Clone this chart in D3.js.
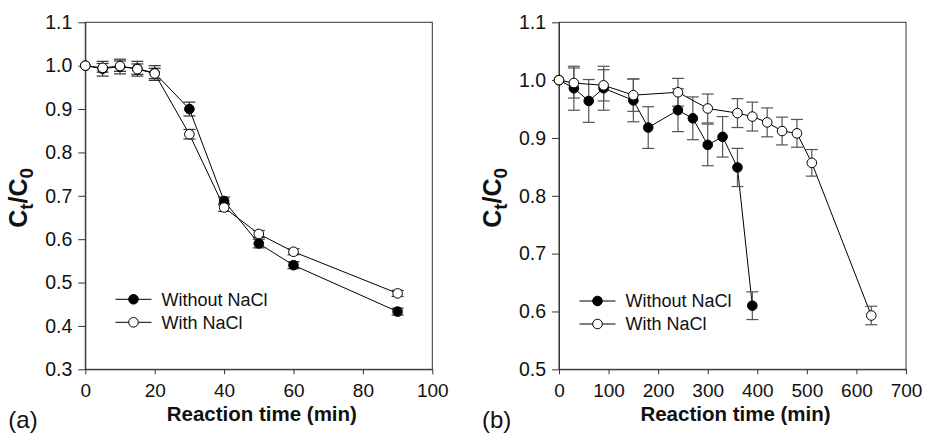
<!DOCTYPE html>
<html>
<head>
<meta charset="utf-8">
<script src="https://cdn.jsdelivr.net/npm/d3@7"></script>
<style>
  body { margin: 0; background: #fff; }
  svg { display: block; }
  text { font-family: Arial, "Liberation Sans", sans-serif; }
</style>
</head>
<body>
<svg id="chart" width="926" height="434"></svg>
<script>
// ---- panel (a) data ----
const timeA = [0, 5, 10, 15, 20, 30, 40, 50, 60, 90];
const withoutA = [1.0, 0.993, 0.998, 0.993, 0.983, 0.900, 0.688, 0.590, 0.540, 0.433];
const withoutAErr = [0, 0.017, 0.017, 0.017, 0.017, 0.016, 0.009, 0.010, 0.008, 0.008];
const withA = [1.0, 0.995, 0.999, 0.992, 0.982, 0.842, 0.673, 0.612, 0.571, 0.475];
const withAErr = [0, 0.010, 0.012, 0.012, 0.012, 0.011, 0.009, 0.008, 0.007, 0.007];
const xTicksA = [0, 20, 40, 60, 80, 100];
const yTicksA = [0.3, 0.4, 0.5, 0.6, 0.7, 0.8, 0.9, 1.0, 1.1];

// ---- panel (b) data ----
const timeBWithout = [0, 30, 60, 90, 150, 180, 240, 270, 300, 330, 360, 390];
const withoutB = [1.0, 0.986, 0.964, 0.986, 0.965, 0.918, 0.948, 0.934, 0.888, 0.902, 0.849, 0.610];
const withoutBErr = [0, 0.038, 0.037, 0.038, 0.037, 0.036, 0.037, 0.037, 0.036, 0.035, 0.033, 0.024];
const timeBWith = [0, 30, 90, 150, 240, 300, 360, 390, 420, 450, 480, 510, 630];
const withB = [1.0, 0.995, 0.991, 0.974, 0.979, 0.951, 0.943, 0.937, 0.927, 0.912, 0.908, 0.857, 0.593];
const withBErr = [0, 0.026, 0.027, 0.028, 0.024, 0.025, 0.025, 0.025, 0.025, 0.024, 0.024, 0.023, 0.016];
const xTicksB = [0, 100, 200, 300, 400, 500, 600, 700];
const yTicksB = [0.5, 0.6, 0.7, 0.8, 0.9, 1.0, 1.1];

const seriesNames = ["Without NaCl", "With NaCl"];

const svg = d3.select("#chart");

function drawPanel(p) {
  const x = d3.scaleLinear().domain(p.xDomain).range([p.left, p.right]);
  const y = d3.scaleLinear().domain(p.yDomain).range([p.bottom, p.top]);
  const g = svg.append("g");

  // frame
  g.append("rect")
    .attr("x", p.left).attr("y", p.top)
    .attr("width", p.right - p.left).attr("height", p.bottom - p.top)
    .attr("fill", "none").attr("stroke", "#333").attr("stroke-width", 1);

  g.append("g")
    .attr("transform", `translate(0,${p.bottom})`)
    .call(d3.axisBottom(x).tickValues(p.xTicks).tickSize(5).tickPadding(9.5).tickSizeOuter(0))
    .call(a => a.select(".domain").attr("stroke", "#333"))
    .call(a => a.selectAll("line").attr("stroke", "#333"))
    .call(a => a.selectAll("text").attr("font-size", 19).attr("fill", "#111")
      .style("font-family", "Arial, 'Liberation Sans', sans-serif"));

  g.append("g")
    .attr("transform", `translate(${p.left},0)`)
    .call(d3.axisLeft(y).tickValues(p.yTicks).tickFormat(d3.format(".1f"))
      .tickSize(7).tickPadding(6).tickSizeOuter(0))
    .call(a => a.select(".domain").attr("stroke", "#333"))
    .call(a => a.selectAll("line").attr("stroke", "#333"))
    .call(a => a.selectAll("text").attr("font-size", 19.5).attr("fill", "#111")
      .style("font-family", "Arial, 'Liberation Sans', sans-serif"));

  // axis titles
  g.append("text")
    .attr("x", (p.left + p.right) / 2 + 3).attr("y", 421)
    .attr("text-anchor", "middle")
    .attr("font-size", 20.5).attr("font-weight", "bold").attr("fill", "#111")
    .text("Reaction time (min)");

  const yt = g.append("text")
    .attr("transform", `translate(${p.left - 58},${(p.top + p.bottom) / 2 + 2}) rotate(-90)`)
    .attr("text-anchor", "middle")
    .attr("font-size", 25).attr("font-weight", "bold").attr("fill", "#111");
  yt.append("tspan").text("C");
  yt.append("tspan").attr("dy", 6).attr("font-size", 19).text("t");
  yt.append("tspan").attr("dy", -6).text("/C");
  yt.append("tspan").attr("dy", 6).attr("font-size", 19).text("0");

  g.append("text")
    .attr("x", p.left - 77).attr("y", 428)
    .attr("font-size", 24).attr("fill", "#111")
    .text(p.tag);

  // series: filled first, open on top
  p.series.forEach(s => {
    const pts = s.t.map((t, i) => ({ t, v: s.v[i], e: s.e[i] }));

    g.append("path")
      .datum(pts)
      .attr("fill", "none").attr("stroke", "#000").attr("stroke-width", 1)
      .attr("d", d3.line().x(d => x(d.t)).y(d => y(d.v)));

    const eb = g.append("g").attr("stroke", p.errColor).attr("stroke-width", 1.2);
    pts.filter(d => d.e > 0).forEach(d => {
      eb.append("line").attr("x1", x(d.t)).attr("x2", x(d.t))
        .attr("y1", y(d.v + d.e)).attr("y2", y(d.v - d.e));
      [d.v + d.e, d.v - d.e].forEach(v => {
        eb.append("line").attr("x1", x(d.t) - 6).attr("x2", x(d.t) + 6)
          .attr("y1", y(v)).attr("y2", y(v));
      });
    });
  });

  p.series.forEach(s => {
    g.append("g").selectAll("circle")
      .data(s.t.map((t, i) => ({ t, v: s.v[i] })))
      .join("circle")
      .attr("cx", d => x(d.t)).attr("cy", d => y(d.v)).attr("r", 4.8)
      .attr("fill", s.fill).attr("stroke", "#000").attr("stroke-width", 1);
  });

  // legend
  const lg = g.append("g");
  p.series.forEach((s, i) => {
    const ly = p.legendY + i * 23;
    lg.append("line").attr("x1", p.legendX).attr("x2", p.legendX + 36)
      .attr("y1", ly).attr("y2", ly).attr("stroke", "#000");
    lg.append("circle").attr("cx", p.legendX + 18).attr("cy", ly).attr("r", 4.8)
      .attr("fill", s.fill).attr("stroke", "#000");
    lg.append("text").attr("x", p.legendX + 46).attr("y", ly).attr("dy", "0.36em")
      .attr("font-size", 18).attr("fill", "#111").text(seriesNames[i]);
  });
}

drawPanel({
  tag: "(a)",
  left: 85.3, right: 432.3, top: 22.3, bottom: 369.3,
  xDomain: [0, 100], yDomain: [0.3, 1.1],
  xTicks: xTicksA, yTicks: yTicksA,
  errColor: "#333",
  legendX: 115.5, legendY: 299.3,
  series: [
    { t: timeA, v: withoutA, e: withoutAErr, fill: "#000" },
    { t: timeA, v: withA, e: withAErr, fill: "#fff" }
  ]
});

drawPanel({
  tag: "(b)",
  left: 559, right: 906, top: 22.3, bottom: 369.3,
  xDomain: [0, 700], yDomain: [0.5, 1.1],
  xTicks: xTicksB, yTicks: yTicksB,
  errColor: "#555",
  legendX: 579.5, legendY: 301,
  series: [
    { t: timeBWithout, v: withoutB, e: withoutBErr, fill: "#000" },
    { t: timeBWith, v: withB, e: withBErr, fill: "#fff" }
  ]
});
</script>
</body>
</html>
